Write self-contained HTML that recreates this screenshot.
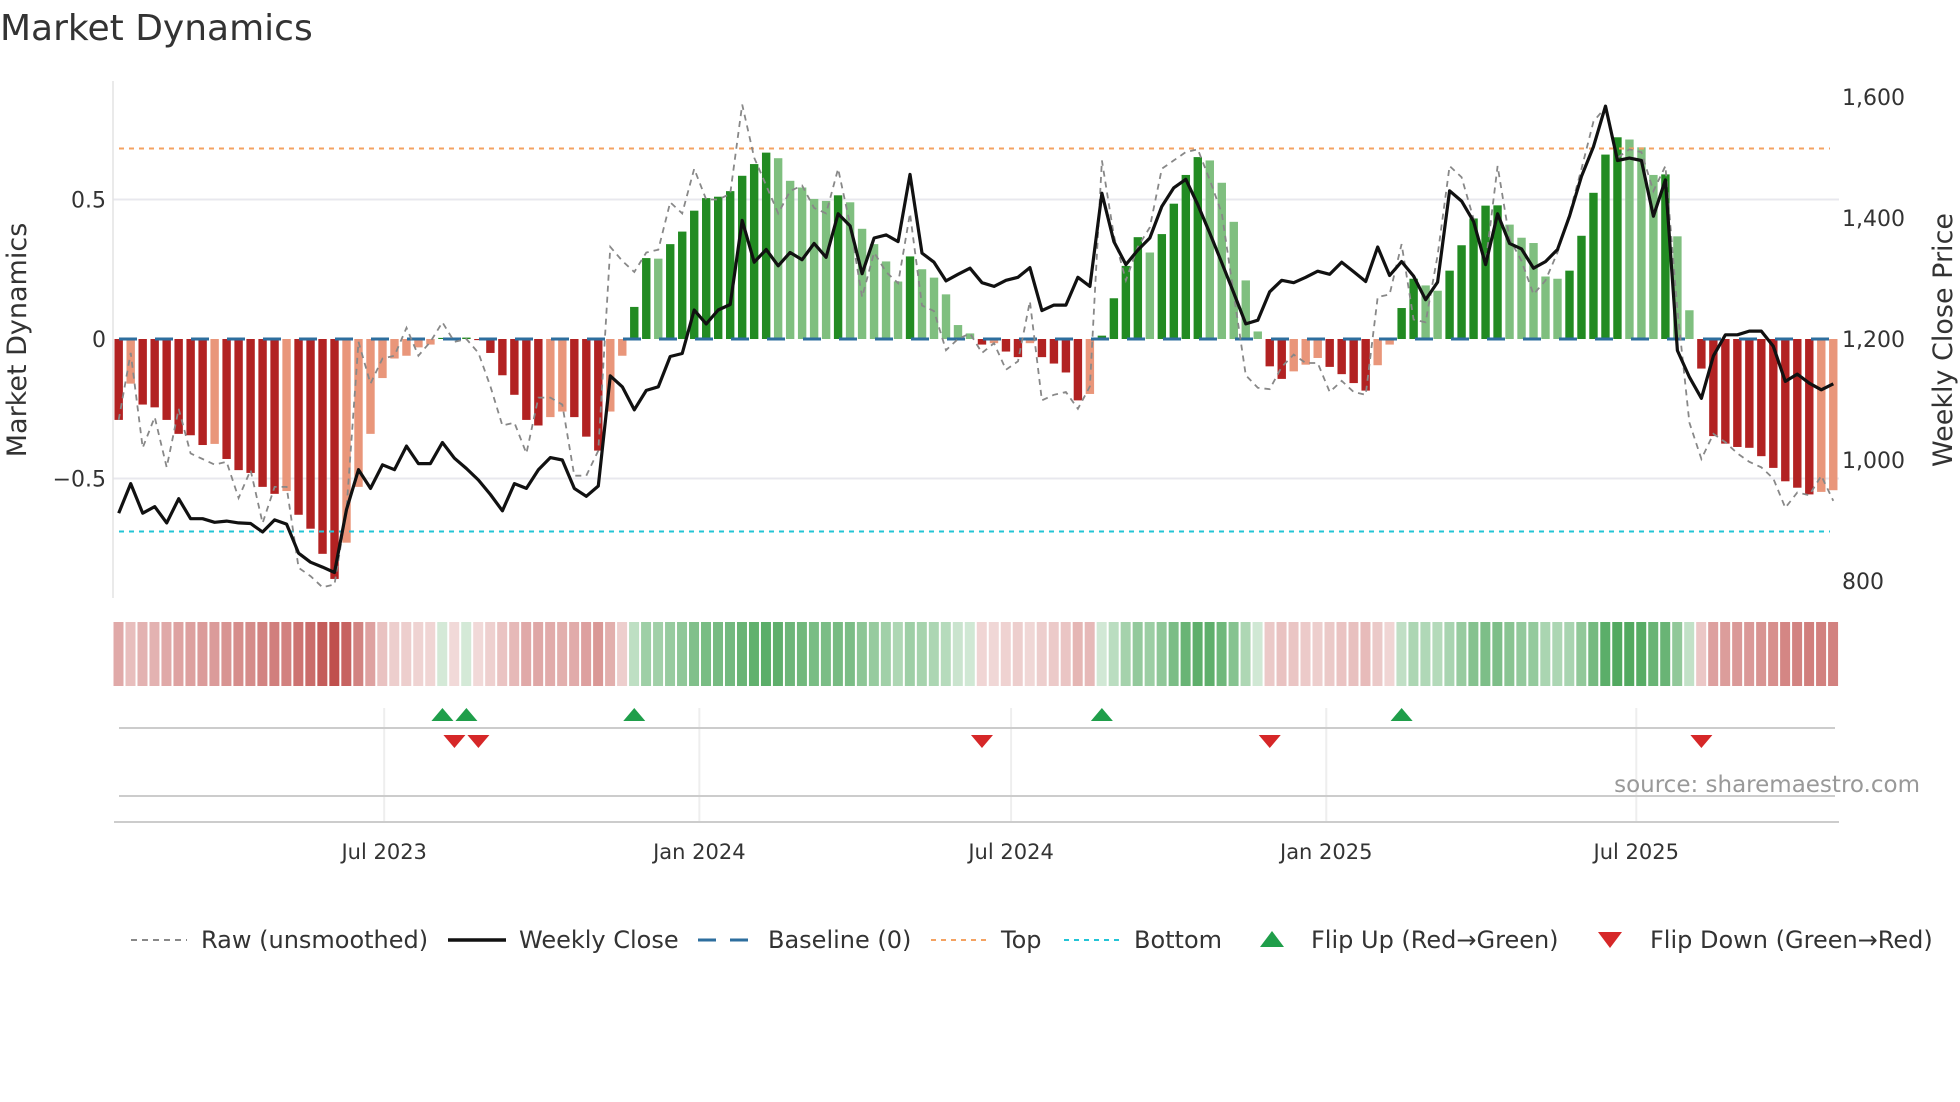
<!DOCTYPE html>
<html><head><meta charset="utf-8"><style>
html,body{margin:0;padding:0;background:#fff;}
svg{display:block;font-family:"DejaVu Sans","Liberation Sans",sans-serif;}
</style></head><body>
<svg id="chart" width="1960" height="1102" viewBox="0 0 1960 1102" xmlns="http://www.w3.org/2000/svg">
<text x="0" y="40" font-size="36" fill="#333">Market Dynamics</text>
<text transform="translate(26,340) rotate(-90)" text-anchor="middle" font-size="27" fill="#333">Market Dynamics</text>
<text transform="translate(1952,340) rotate(-90)" text-anchor="middle" font-size="27" fill="#333">Weekly Close Price</text>
<g id="grid"></g><g id="bars"></g><g id="lines"></g><g id="axes"></g><g id="strip"></g><g id="markers"></g>
<text x="1920" y="792" text-anchor="end" font-size="23" fill="#999">source: sharemaestro.com</text>
<g id="legend"></g>
</svg>
<script>
const momentum = [-0.29,-0.16,-0.235,-0.245,-0.29,-0.34,-0.345,-0.38,-0.376,-0.43,-0.47,-0.48,-0.53,-0.555,-0.545,-0.63,-0.68,-0.77,-0.86,-0.73,-0.53,-0.34,-0.14,-0.07,-0.06,-0.03,-0.02,0.004,-0.003,0.005,-0.004,-0.05,-0.13,-0.2,-0.29,-0.31,-0.28,-0.26,-0.28,-0.35,-0.40,-0.26,-0.06,0.115,0.29,0.288,0.34,0.385,0.46,0.505,0.51,0.53,0.585,0.627,0.668,0.648,0.567,0.543,0.502,0.495,0.515,0.49,0.395,0.34,0.278,0.206,0.296,0.25,0.22,0.16,0.05,0.02,-0.02,-0.015,-0.045,-0.065,-0.015,-0.065,-0.088,-0.12,-0.22,-0.197,0.012,0.146,0.262,0.365,0.31,0.376,0.485,0.588,0.652,0.64,0.56,0.42,0.21,0.027,-0.098,-0.143,-0.116,-0.092,-0.068,-0.1,-0.126,-0.158,-0.185,-0.094,-0.02,0.111,0.216,0.192,0.173,0.245,0.336,0.432,0.478,0.479,0.41,0.363,0.344,0.224,0.216,0.245,0.37,0.524,0.661,0.723,0.715,0.687,0.588,0.59,0.368,0.103,-0.106,-0.348,-0.375,-0.387,-0.39,-0.42,-0.462,-0.51,-0.533,-0.557,-0.548,-0.542];
const raw = [-0.29,-0.05,-0.39,-0.28,-0.46,-0.25,-0.41,-0.43,-0.45,-0.44,-0.57,-0.47,-0.66,-0.53,-0.53,-0.82,-0.85,-0.89,-0.88,-0.61,-0.01,-0.16,-0.07,-0.06,0.04,-0.06,-0.01,0.06,-0.01,0,-0.05,-0.17,-0.31,-0.30,-0.41,-0.21,-0.21,-0.235,-0.49,-0.49,-0.40,0.33,0.28,0.24,0.31,0.32,0.49,0.45,0.61,0.50,0.50,0.52,0.84,0.65,0.55,0.45,0.53,0.55,0.47,0.45,0.61,0.41,0.15,0.31,0.24,0.2,0.45,0.12,0.1,-0.04,0,0.02,-0.05,-0.015,-0.11,-0.08,0.135,-0.22,-0.2,-0.19,-0.25,-0.17,0.64,0.37,0.21,0.33,0.40,0.61,0.64,0.67,0.68,0.57,0.45,0.16,-0.13,-0.175,-0.18,-0.1,-0.056,-0.086,-0.086,-0.19,-0.15,-0.19,-0.2,0.15,0.16,0.34,0.07,0.06,0.3,0.62,0.58,0.43,0.27,0.62,0.36,0.28,0.16,0.21,0.31,0.45,0.61,0.78,0.83,0.65,0.68,0.67,0.53,0.62,0.105,-0.3,-0.43,-0.34,-0.37,-0.41,-0.44,-0.46,-0.50,-0.605,-0.55,-0.56,-0.49,-0.58];
const closePrice = [912,961,912,923,896,936,903,903,897,899,896,895,881,901,894,846,831,823,814,918,984,953,992,984,1023,994,994,1029,1003,986,967,943,916,961,953,984,1004,1000,953,940,957,1139,1121,1083,1115,1121,1171,1176,1248,1225,1248,1257,1396,1327,1348,1321,1343,1331,1358,1335,1407,1387,1308,1367,1372,1361,1472,1342,1327,1296,1307,1317,1293,1287,1297,1302,1318,1247,1256,1256,1302,1287,1441,1361,1323,1347,1367,1419,1450,1464,1422,1375,1326,1276,1225,1231,1278,1297,1293,1302,1312,1307,1327,1311,1295,1352,1305,1328,1304,1265,1294,1445,1428,1394,1323,1407,1358,1349,1317,1328,1348,1403,1469,1518,1585,1495,1499,1495,1403,1463,1181,1137,1102,1172,1207,1207,1213,1213,1188,1130,1142,1127,1116,1126];
const yTicksLeft = [0.5, 0, -0.5];
const yTickLabelsLeft = ["0.5","0","\u22120.5"];
const yTicksRight = [1600,1400,1200,1000,800];
const dateTicks = ["2023-07-01","2024-01-01","2024-07-01","2025-01-01","2025-07-01"];
const dateTickLabels = ["Jul 2023","Jan 2024","Jul 2024","Jan 2025","Jul 2025"];
const topLevel = 0.683, bottomLevel = -0.69;
const startDate = "2023-01-27";

const NS="http://www.w3.org/2000/svg";
function mk(parent,tag,attrs){const e=document.createElementNS(NS,tag);for(const k in attrs)e.setAttribute(k,attrs[k]);parent.appendChild(e);return e;}
const X0=118.7, DX=11.99;
const xS = i => X0 + i*DX;
const yL = v => 339 - v*279;
const yR = p => 339 - (p-1200)*0.605;
const dateIdx = d => (new Date(d) - new Date(startDate))/(7*864e5);
const PL=113, PR=1839, PT=81, PB=598;

const grid=document.getElementById('grid');
yTicksLeft.forEach((v,i)=>{ if(v!==0){const l=mk(grid,'line',{x1:PL,x2:PR,y1:yL(v),y2:yL(v),stroke:'#e8e8ee','stroke-width':2});

}});

const bars=document.getElementById('bars');
momentum.forEach((v,i)=>{
  const prev=i>0?momentum[i-1]:0;
  const strong = v>=0 ? v>=prev : v<=prev;
  const col = v>=0 ? (strong?'#228b22':'#7fbf7f') : (strong?'#b22222':'#e9967a');
  const y1=yL(Math.max(v,0)), y2=yL(Math.min(v,0));
  const r=mk(bars,'rect',{x:xS(i)-4.2,y:y1,width:8.4,height:Math.max(y2-y1,0.5),fill:col});
  
  
});
const lines=document.getElementById('lines');
const ref=[['top-line',topLevel,'#f4a261','5,5'],['bottom-line',bottomLevel,'#22c4d6','5,5']];
ref.forEach(r=>{const l=mk(lines,'line',{x1:119,x2:1830,y1:yL(r[1]),y2:yL(r[1]),stroke:r[2],'stroke-width':2,'stroke-dasharray':r[3]});

});
const bl=mk(lines,'line',{x1:119,x2:1830,y1:yL(0),y2:yL(0),stroke:'#2d6e9e','stroke-width':3,'stroke-dasharray':'18,18'});


const rawP=mk(lines,'path',{d:raw.map((v,i)=>(i?'L':'M')+xS(i).toFixed(1)+','+yL(v).toFixed(1)).join(''),fill:'none',stroke:'#888','stroke-width':1.8,'stroke-dasharray':'6,5'});


const cP=mk(lines,'path',{d:closePrice.map((v,i)=>(i?'L':'M')+xS(i).toFixed(1)+','+yR(v).toFixed(1)).join(''),fill:'none',stroke:'#111','stroke-width':3.2,'stroke-linejoin':'round'});



const axes=document.getElementById('axes');
const la=mk(axes,'line',{x1:PL,x2:PL,y1:PT,y2:PB,stroke:'#e3e3e3','stroke-width':1.5});


yTicksLeft.forEach((v,i)=>{const t=mk(axes,'text',{x:106,y:yL(v)+8,'text-anchor':'end','font-size':22,fill:'#333'});t.textContent=yTickLabelsLeft[i];

});
yTicksRight.forEach(p=>{const t=mk(axes,'text',{x:1842,y:yR(p)+8,'font-size':22,fill:'#333'});t.textContent=p.toLocaleString('en-US');

});

const strip=document.getElementById('strip');
momentum.forEach((v,i)=>{
  const a=Math.min(1,0.22+0.78*Math.abs(v)/0.85);
  const r=mk(strip,'rect',{x:xS(i)-5.2,y:622,width:10,height:64,fill:v>=0?'#3a9d4a':'#c0504d','fill-opacity':a.toFixed(2)});
  
  
});

const mkr=document.getElementById('markers');
dateTicks.forEach((d,i)=>{const x=xS(dateIdx(d));
  const g=mk(mkr,'line',{x1:x,x2:x,y1:708,y2:822,stroke:'#eeeeee','stroke-width':2});
  
  
  const t=mk(mkr,'text',{x:x,y:859,'text-anchor':'middle','font-size':21,fill:'#333'});t.textContent=dateTickLabels[i];
  
  });
[[728,119,1835,'flip-axis-line'],[796,119,1835,'lower-panel-line'],[822,114,1839,'x-axis-line']].forEach(a=>{
  const l=mk(mkr,'line',{x1:a[1],x2:a[2],y1:a[0],y2:a[0],stroke:'#cccccc','stroke-width':2});
  
  });
for(let i=1;i<momentum.length;i++){
  const a=momentum[i-1], b=momentum[i]; const x=xS(i);
  if(a<0&&b>=0){const t=mk(mkr,'polygon',{points:`${x-11},${721} ${x+11},${721} ${x},${708}`,fill:'#1f9e4a'});
    
    }
  else if(a>=0&&b<0){const t=mk(mkr,'polygon',{points:`${x-11},${735} ${x+11},${735} ${x},${748}`,fill:'#d62728'});
    
    }
}

const lg=document.getElementById('legend');
const LY=940;
function lgText(x,s,name){const t=mk(lg,'text',{x:x,y:LY+8,'font-size':24,fill:'#333'});t.textContent=s;
  
  }
function lgLine(x1,x2,col,w,dash,name){const l=mk(lg,'line',{x1:x1,x2:x2,y1:LY,y2:LY,stroke:col,'stroke-width':w,'stroke-dasharray':dash});
  
  }
lgLine(131,187,'#888',2,'6,5','legend-raw-swatch');lgText(201,'Raw (unsmoothed)','legend-raw-label');
lgLine(448,506,'#111',3.5,'none','legend-close-swatch');lgText(519,'Weekly Close','legend-close-label');
lgLine(698,754,'#2d6e9e',3,'18,14','legend-baseline-swatch');lgText(768,'Baseline (0)','legend-baseline-label');
lgLine(931,987,'#f4a261',2,'5,5','legend-top-swatch');lgText(1001,'Top','legend-top-label');
lgLine(1064,1120,'#22c4d6',2,'5,5','legend-bottom-swatch');lgText(1134,'Bottom','legend-bottom-label');
const lu=mk(lg,'polygon',{points:`1260,${LY+7} 1284,${LY+7} 1272,${LY-9}`,fill:'#1f9e4a'});


lgText(1311,'Flip Up (Red\u2192Green)','legend-flip-up-label');
const ld=mk(lg,'polygon',{points:`1598,${LY-8} 1622,${LY-8} 1610,${LY+8}`,fill:'#d62728'});


lgText(1650,'Flip Down (Green\u2192Red)','legend-flip-down-label');
</script>
</body></html>
